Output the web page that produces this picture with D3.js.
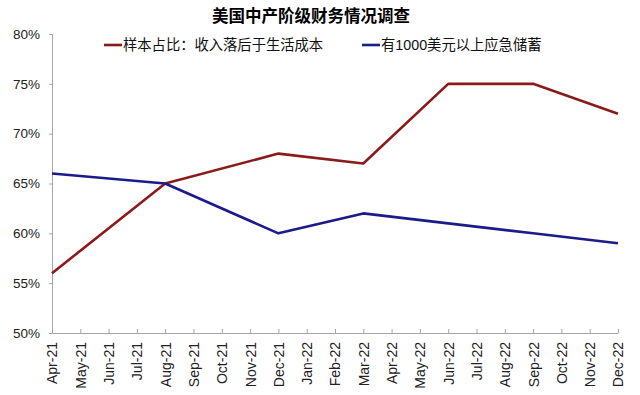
<!doctype html>
<html>
  <head>
    <meta charset="utf-8">
    <title>美国中产阶级财务情况调查</title>
    <script src="https://cdn.jsdelivr.net/npm/d3@7"></script>
    <style>
      body { margin: 0; background: #fff; }
      text { font-family: "Liberation Sans", Arial, "Noto Sans CJK SC", sans-serif; }
      .cjk { font-family: "Liberation Sans", "Noto Sans CJK SC", sans-serif; }
    </style>
  </head>
  <body>
  <script>

  var width = 640;
  var height = 395;

  // x axis categories (monthly)
  var months = ["Apr-21", "May-21", "Jun-21", "Jul-21", "Aug-21", "Sep-21", "Oct-21",
    "Nov-21", "Dec-21", "Jan-22", "Feb-22", "Mar-22", "Apr-22", "May-22", "Jun-22",
    "Jul-22", "Aug-22", "Sep-22", "Oct-22", "Nov-22", "Dec-22"];

  // survey months and readings (%)
  var surveyMonths = ["Apr-21", "Aug-21", "Dec-21", "Mar-22", "Jun-22", "Sep-22", "Dec-22"];
  var incomeBehind = [56, 65, 68, 67, 75, 75, 72];
  var savings1000 = [66, 65, 60, 62, 61, 60, 59];

  var yTicks = [50, 55, 60, 65, 70, 75, 80];

  var seriesNames = ["样本占比：收入落后于生活成本", "有1000美元以上应急储蓄"];
  var seriesColors = ["#8b1a1a", "#1b1b8a"];

  var margin = {top: 34, right: 22, bottom: 62, left: 52};

  var svg = d3.select('body').append('svg')
    .attr('width', width)
    .attr('height', height);

  var x = d3.scalePoint()
    .domain(months)
    .range([margin.left, width - margin.right]);

  var y = d3.scaleLinear()
    .domain([50, 80])
    .range([height - margin.bottom, margin.top]);

  // title
  svg.append('text')
    .attr('class', 'cjk')
    .attr('x', 311)
    .attr('y', 22)
    .attr('text-anchor', 'middle')
    .attr('font-size', 16.5)
    .attr('font-weight', 'bold')
    .attr('fill', '#000')
    .text('美国中产阶级财务情况调查');

  // y axis
  var yAxis = svg.append('g')
    .attr('transform', 'translate(' + margin.left + ',0)')
    .call(d3.axisLeft(y).tickValues(yTicks).tickSize(3).tickPadding(9)
      .tickFormat(function (d) { return d + '%'; }));
  yAxis.select('.domain').attr('stroke', '#a6a6a6');
  yAxis.selectAll('.tick line').attr('stroke', '#a6a6a6');
  yAxis.selectAll('.tick text').attr('font-size', 13.5).attr('fill', '#222');

  // x axis, ticks point up into the plot
  var xAxis = svg.append('g')
    .attr('transform', 'translate(0,' + (height - margin.bottom) + ')')
    .call(d3.axisBottom(x).tickSize(-4).tickSizeOuter(0));
  xAxis.select('.domain').attr('stroke', '#a6a6a6');
  xAxis.selectAll('.tick line').attr('stroke', '#a6a6a6');
  xAxis.selectAll('.tick text')
    .attr('font-size', 14)
    .attr('fill', '#222')
    .attr('text-anchor', 'end')
    .attr('dy', '0.35em')
    .attr('transform', 'translate(0,9) rotate(-90)')
    .attr('x', 0)
    .attr('y', 0);

  // lines
  var line = d3.line()
    .x(function (d) { return x(d.m); })
    .y(function (d) { return y(d.v); });

  [incomeBehind, savings1000].forEach(function (vals, i) {
    var pts = surveyMonths.map(function (m, j) { return {m: m, v: vals[j]}; });
    svg.append('path')
      .datum(pts)
      .attr('fill', 'none')
      .attr('stroke', seriesColors[i])
      .attr('stroke-width', 2.6)
      .attr('stroke-linejoin', 'round')
      .attr('d', line);
  });

  // legend
  var legendX = [104, 362];
  seriesNames.forEach(function (name, i) {
    var g = svg.append('g').attr('transform', 'translate(' + legendX[i] + ',45)');
    g.append('line')
      .attr('x1', 0).attr('x2', 18)
      .attr('y1', 0).attr('y2', 0)
      .attr('stroke', seriesColors[i])
      .attr('stroke-width', 2.6);
    g.append('text')
      .attr('class', 'cjk')
      .attr('x', 19)
      .attr('y', 0)
      .attr('dy', '0.35em')
      .attr('font-size', 14.3)
      .attr('fill', '#111')
      .text(name);
  });

  </script>
  </body>
</html>
